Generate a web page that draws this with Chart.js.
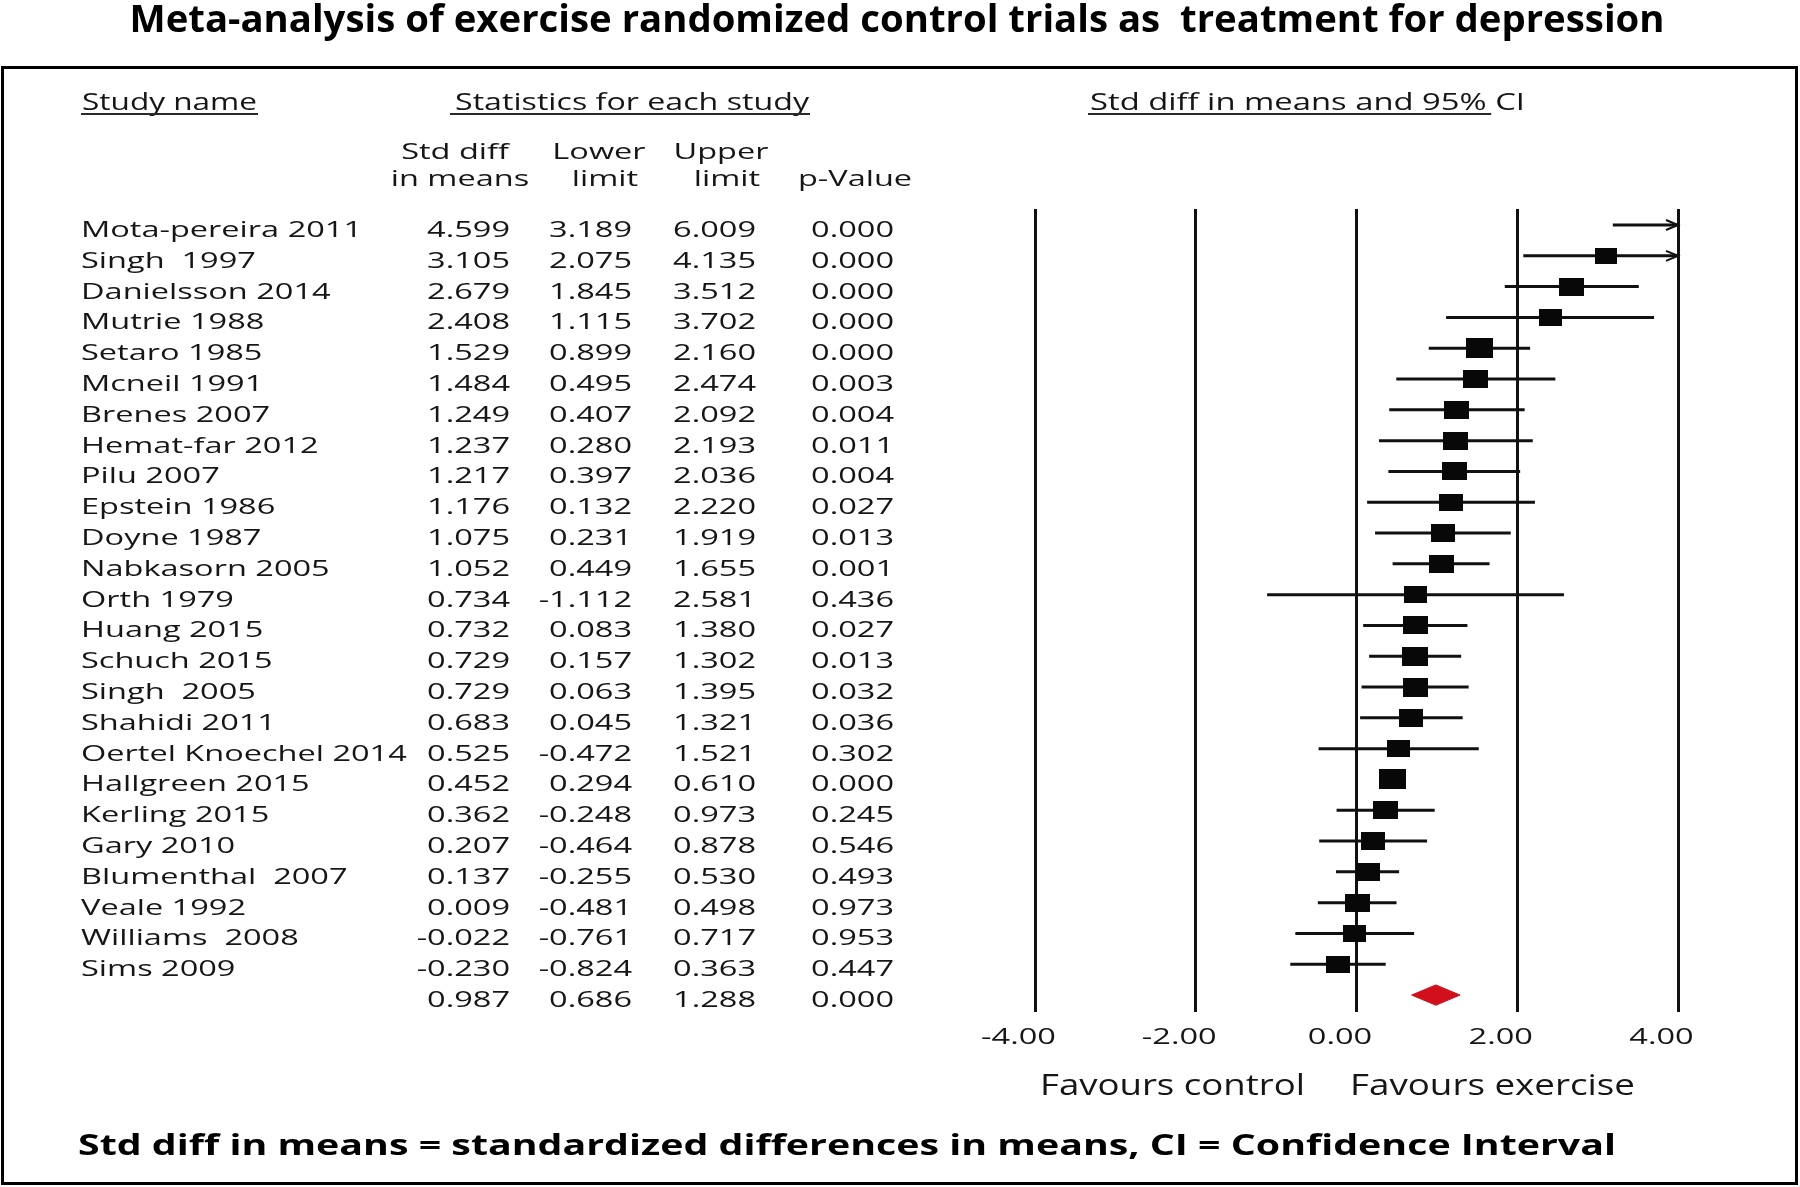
<!DOCTYPE html>
<html lang="en">
<head>
<meta charset="UTF-8">
<title>Exercise RCTs for depression - forest plot</title>
<script src="https://cdn.jsdelivr.net/npm/chart.js"></script>
<style>
  html, body { margin: 0; padding: 0; background: #fff; }
  #wrap { width: 1800px; height: 1187px; position: relative; }
</style>
</head>
<body>
<div id="wrap"><canvas id="forest" width="1800" height="1187"></canvas></div>
<script>
// study rows, top to bottom
const studies = ['Mota-pereira 2011', 'Singh  1997', 'Danielsson 2014', 'Mutrie 1988', 'Setaro 1985',
  'Mcneil 1991', 'Brenes 2007', 'Hemat-far 2012', 'Pilu 2007', 'Epstein 1986', 'Doyne 1987',
  'Nabkasorn 2005', 'Orth 1979', 'Huang 2015', 'Schuch 2015', 'Singh  2005', 'Shahidi 2011',
  'Oertel Knoechel 2014', 'Hallgreen 2015', 'Kerling 2015', 'Gary 2010', 'Blumenthal  2007',
  'Veale 1992', 'Williams  2008', 'Sims 2009'];
const stdDiff = [4.599, 3.105, 2.679, 2.408, 1.529, 1.484, 1.249, 1.237, 1.217, 1.176, 1.075, 1.052,
  0.734, 0.732, 0.729, 0.729, 0.683, 0.525, 0.452, 0.362, 0.207, 0.137, 0.009, -0.022, -0.230];
const lowerLimit = [3.189, 2.075, 1.845, 1.115, 0.899, 0.495, 0.407, 0.280, 0.397, 0.132, 0.231, 0.449,
  -1.112, 0.083, 0.157, 0.063, 0.045, -0.472, 0.294, -0.248, -0.464, -0.255, -0.481, -0.761, -0.824];
const upperLimit = [6.009, 4.135, 3.512, 3.702, 2.160, 2.474, 2.092, 2.193, 2.036, 2.220, 1.919, 1.655,
  2.581, 1.380, 1.302, 1.395, 1.321, 1.521, 0.610, 0.973, 0.878, 0.530, 0.498, 0.717, 0.363];
const pValues = [0.000, 0.000, 0.000, 0.000, 0.000, 0.003, 0.004, 0.011, 0.004, 0.027, 0.013, 0.001,
  0.436, 0.027, 0.013, 0.032, 0.036, 0.302, 0.000, 0.245, 0.546, 0.493, 0.973, 0.953, 0.447];
// relative study weight
const boxWeight = [0.9, 0.9, 1.02, 0.95, 1.12, 1.0, 1.02, 1.0, 1.02, 0.96, 0.98, 1.02,
  0.94, 1.02, 1.08, 1.04, 0.98, 0.92, 1.1, 1.0, 0.98, 0.98, 1.02, 0.94, 0.96];
// pooled: std diff, lower, upper, p
const pooledStats = [0.987, 0.686, 1.288, 0.000];
const xTicks = [-4, -2, 0, 2, 4];
const xTickLabels = ['-4.00', '-2.00', '0.00', '2.00', '4.00'];

const TEXT = '#161616';
const BODY = '500 21px "Open Sans"';
const summaryRow = studies.length;

function makeBox(w) {
  const c = document.createElement('canvas');
  c.width = Math.round(24.5 * w);
  c.height = Math.round(18 * w);
  const g = c.getContext('2d');
  g.fillStyle = '#080808';
  g.fillRect(0, 0, c.width, c.height);
  return c;
}

function fitScale(ctx, str, font, width) {
  ctx.save();
  ctx.font = font;
  const w = ctx.measureText(str).width;
  ctx.restore();
  return width / w;
}

function stretchText(ctx, str, x, y, font, sx, align, color) {
  ctx.save();
  ctx.font = font;
  ctx.fillStyle = color || TEXT;
  ctx.textAlign = align || 'left';
  ctx.textBaseline = 'alphabetic';
  ctx.translate(x, y);
  ctx.scale(sx, 1);
  ctx.fillText(str, 0, 0);
  ctx.restore();
}

function underline(ctx, x1, x2, y) {
  ctx.save();
  ctx.strokeStyle = '#2a2a2a';
  ctx.lineWidth = 2;
  ctx.beginPath();
  ctx.moveTo(x1, y);
  ctx.lineTo(x2, y);
  ctx.stroke();
  ctx.restore();
}

// confidence interval segments, broken by null points
const ciData = [];
studies.forEach((s, i) => {
  ciData.push({ x: lowerLimit[i], y: i }, { x: upperLimit[i], y: i }, { x: null, y: null });
});

const boxData = studies.map((s, i) => ({ x: stdDiff[i], y: i }));
const boxStyles = boxWeight.map(makeBox);

const halfH = 0.33;
const diamondData = [
  { x: pooledStats[1], y: summaryRow },
  { x: pooledStats[0], y: summaryRow - halfH },
  { x: pooledStats[2], y: summaryRow },
  { x: pooledStats[0], y: summaryRow + halfH },
  { x: pooledStats[1], y: summaryRow }
];

const tablePlugin = {
  id: 'forestText',
  afterDatasetsDraw(chart) {
    const ctx = chart.ctx;
    const xs = chart.scales.x, ys = chart.scales.y;
    const tipX = xs.getPixelForValue(xs.max);
    ctx.save();
    ctx.strokeStyle = '#111';
    ctx.lineWidth = 2;
    upperLimit.forEach((u, i) => {
      if (u <= xs.max) return;
      const y = ys.getPixelForValue(i);
      ctx.beginPath();
      ctx.moveTo(tipX - 12, y - 5);
      ctx.lineTo(tipX, y);
      ctx.lineTo(tipX - 12, y + 5);
      ctx.stroke();
    });
    ctx.restore();
  },
  afterDraw(chart) {
    const ctx = chart.ctx;
    const xs = chart.scales.x, ys = chart.scales.y;

    // frame
    ctx.save();
    ctx.strokeStyle = '#000';
    ctx.lineWidth = 3;
    ctx.strokeRect(2.5, 67.5, 1794, 1116);
    ctx.restore();

    // title
    const titleFont = 'bold 38px "Open Sans"';
    const title = 'Meta-analysis of exercise randomized control trials as  treatment for depression';
    stretchText(ctx, title, 897, 32, titleFont, fitScale(ctx, title, titleFont, 1535), 'center', '#000');

    // section headers
    const headFont = '500 23px "Open Sans"';
    stretchText(ctx, 'Study name', 82, 110, headFont, fitScale(ctx, 'Study name', headFont, 175));
    underline(ctx, 81, 258, 114);
    const statHead = 'Statistics for each study';
    stretchText(ctx, statHead, 455, 110, headFont, fitScale(ctx, statHead, headFont, 354));
    underline(ctx, 450, 810, 114);
    const ciHead = 'Std diff in means and 95% ';
    const ciSx = fitScale(ctx, ciHead + 'CI', headFont, 435);
    stretchText(ctx, ciHead + 'CI', 1090, 110, headFont, ciSx);
    ctx.save(); ctx.font = headFont;
    const ciW = ctx.measureText(ciHead).width * ciSx;
    ctx.restore();
    underline(ctx, 1088, 1090 + ciW - 4, 114);

    // column headers
    const sx = fitScale(ctx, 'Mota-pereira 2011', BODY, 281);
    stretchText(ctx, 'Std diff', 455, 159, BODY, sx, 'center');
    stretchText(ctx, 'in means', 460, 186, BODY, sx, 'center');
    stretchText(ctx, 'Lower', 599, 159, BODY, sx, 'center');
    stretchText(ctx, 'limit', 605, 186, BODY, sx, 'center');
    stretchText(ctx, 'Upper', 721, 159, BODY, sx, 'center');
    stretchText(ctx, 'limit', 727, 186, BODY, sx, 'center');
    stretchText(ctx, 'p-Value', 855, 186, BODY, sx, 'center');

    // table rows
    const colRight = [510, 632, 756, 894];
    studies.forEach((name, i) => {
      const y = ys.getPixelForValue(i) + 12;
      stretchText(ctx, name, 81, y, BODY, sx, 'left');
      const vals = [stdDiff[i], lowerLimit[i], upperLimit[i], pValues[i]];
      vals.forEach((v, k) => stretchText(ctx, v.toFixed(3), colRight[k], y, BODY, sx, 'right'));
    });
    const ySum = ys.getPixelForValue(summaryRow) + 12;
    pooledStats.forEach((v, k) => stretchText(ctx, v.toFixed(3), colRight[k], ySum, BODY, sx, 'right'));

    // x tick labels
    xs.ticks.forEach((t, k) => {
      const px = xs.getPixelForValue(t.value) - 16.5;
      stretchText(ctx, xTickLabels[k], px, 1044, BODY, sx, 'center');
    });

    // favours labels
    const favFont = '500 29px "Open Sans"';
    stretchText(ctx, 'Favours control', 1040, 1095, favFont, fitScale(ctx, 'Favours control', favFont, 265));
    stretchText(ctx, 'Favours exercise', 1350, 1095, favFont, fitScale(ctx, 'Favours exercise', favFont, 285));

    // footnote
    const footFont = 'bold 28px "Open Sans"';
    const foot = 'Std diff in means = standardized differences in means, CI = Confidence Interval';
    stretchText(ctx, foot, 78, 1155, footFont, fitScale(ctx, foot, footFont, 1538), 'left', '#000');
  }
};

new Chart(document.getElementById('forest'), {
  type: 'scatter',
  data: {
    datasets: [
      {
        label: 'Std diff in means',
        data: boxData,
        pointStyle: boxStyles,
        pointRadius: 12,
        showLine: false,
        order: 0
      },
      {
        label: '95% CI',
        data: ciData,
        showLine: true,
        spanGaps: false,
        borderColor: '#111',
        borderWidth: 3,
        pointRadius: 0,
        order: 1
      },
      {
        label: 'Pooled',
        data: diamondData,
        showLine: true,
        fill: 'shape',
        borderColor: '#d2101c',
        backgroundColor: '#d2101c',
        borderWidth: 1,
        pointRadius: 0,
        order: 2
      }
    ]
  },
  options: {
    responsive: false,
    animation: false,
    events: [],
    layout: { padding: { left: 1035, right: 122, top: 209, bottom: 175 } },
    plugins: { legend: { display: false }, tooltip: { enabled: false } },
    scales: {
      x: {
        type: 'linear',
        min: xTicks[0],
        max: xTicks[xTicks.length - 1],
        afterBuildTicks: (scale) => { scale.ticks = xTicks.map(v => ({ value: v })); },
        afterFit: (scale) => { scale.height = 0; },
        ticks: { display: false },
        grid: { color: '#111', lineWidth: 3, drawTicks: false },
        border: { display: false }
      },
      y: {
        type: 'linear',
        display: false,
        reverse: true,
        min: -0.52,
        max: summaryRow + 0.55
      }
    }
  },
  plugins: [tablePlugin]
});
</script>
</body>
</html>
